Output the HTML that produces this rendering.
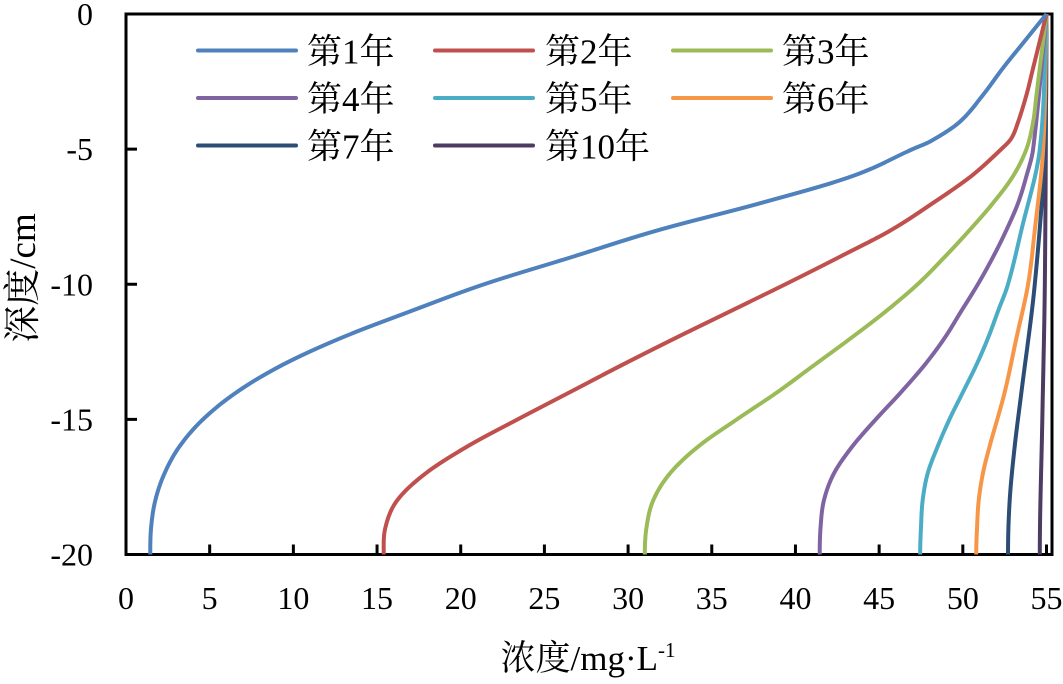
<!DOCTYPE html>
<html><head><meta charset="utf-8"><style>
body{margin:0;background:#fff;}
svg text{font-family:"Liberation Serif","Noto Serif CJK SC","Noto Sans CJK SC",serif;fill:#000;}
</style></head><body>
<svg id="chart" width="1063" height="679" viewBox="0 0 1063 679" xmlns="http://www.w3.org/2000/svg"></svg>
<script>
const seriesNames = ["第1年","第2年","第3年","第4年","第5年","第6年","第7年","第10年"];
const seriesColors = ["#4f81bd","#c0504d","#9bbb59","#8064a2","#4bacc6","#f79646","#2c4d75","#4d3b62"];
const depths1 = [0,-1,-2,-3,-4,-4.7,-5,-6,-7,-8,-9,-10,-11,-12,-13,-14,-15,-16,-17,-18,-19,-20];
const conc1 = [55,53.7,52.4,51.2,49.8,48.1,47.0,43.4,37.9,31.8,26.6,21.4,17.0,12.8,9.3,6.6,4.6,3.2,2.3,1.75,1.5,1.45];
const depths2 = [0,-1,-2,-3,-4,-4.6,-5,-6,-7,-8,-9,-10,-11,-12,-13,-14,-15,-16,-17,-18,-19,-20];
const conc2 = [55,54.6,54.2,53.8,53.3,52.9,52.3,50.5,48.2,45.7,42.6,39.4,36.1,32.8,29.6,26.5,23.4,20.4,17.9,16.2,15.5,15.4];
const depths3 = [0,-1,-2,-3,-4,-5,-6,-7,-8,-9,-10,-11,-12,-13,-14,-15,-16,-17,-18,-19,-20];
const conc3 = [55,54.8,54.6,54.4,54.2,53.8,53.0,51.8,50.4,48.9,47.3,45.4,43.3,41.1,38.9,36.5,34.2,32.5,31.5,31.1,31.0];
const depths4 = [0,-5,-6,-7,-8,-9,-10,-11,-12,-13,-14,-15,-16,-17,-18,-19,-20];
const conc4 = [55,54.2,53.8,53.3,52.6,51.8,50.9,49.9,48.9,47.7,46.3,44.8,43.4,42.3,41.7,41.5,41.45];
const depths5 = [0,-5,-8,-10,-11,-12,-13,-14,-15,-16,-17,-18,-19,-20];
const conc5 = [55,54.6,53.5,52.7,52.1,51.5,50.8,50.0,49.2,48.5,47.9,47.6,47.5,47.45];
const depths6 = [0,-5,-8,-10,-12,-14,-16,-17,-18,-19,-20];
const conc6 = [55,54.8,54.3,53.9,53.2,52.5,51.6,51.2,50.95,50.85,50.8];
const depths7 = [0,-5,-10,-14,-16,-18,-20];
const conc7 = [55,54.9,54.3,53.5,53.1,52.8,52.7];
const depths10 = [0,-10,-15,-20];
const conc10 = [55,54.9,54.75,54.6];
const xTicks = [0,5,10,15,20,25,30,35,40,45,50,55];
const yTicks = [0,-5,-10,-15,-20];

const allDepths=[depths1,depths2,depths3,depths4,depths5,depths6,depths7,depths10];
const allConc=[conc1,conc2,conc3,conc4,conc5,conc6,conc7,conc10];
const NS="http://www.w3.org/2000/svg";
const svg=document.getElementById('chart');
const L=126,R=1046.5,T=14,B=554.5;
const xs=v=>L+(v-0)/55*(R-L);
const ys=v=>T+(0-v)/20*(B-T);
function mk(tag,attrs,parent){const e=document.createElementNS(NS,tag);for(const k in attrs)e.setAttribute(k,attrs[k]);(parent||svg).appendChild(e);return e;}

let fr=mk('path',{d:`M${L},${T} H1052 V${B} H${L} Z`,fill:'none',stroke:'#000','stroke-width':3});



xTicks.forEach(t=>{
  const x=xs(t);
  if(t>0){const l=mk('line',{x1:x,x2:x,y1:B,y2:B-10,stroke:'#000','stroke-width':3});
  
  }
  const tx=mk('text',{x:x,y:609,'font-size':32,'text-anchor':'middle'});tx.textContent=t;
  
  
});
yTicks.forEach(t=>{
  const y=ys(t);
  if(t<0&&t>-20){const l=mk('line',{x1:L,x2:L+11,y1:y,y2:y,stroke:'#000','stroke-width':3});
  
  }
  const tx=mk('text',{x:93,y:y+11,'font-size':32,'text-anchor':'end'});tx.textContent=t;
  
  
});

// smooth cubic Hermite (centered slopes) of conc as function of depth
function smoothPath(ds,cs){
  const n=ds.length,t=ds.map(d=>-d),h=[],m=[];
  for(let i=0;i<n-1;i++)h[i]=t[i+1]-t[i];
  m[0]=(cs[1]-cs[0])/h[0];
  m[n-1]=0;
  for(let i=1;i<n-1;i++)m[i]=(cs[i+1]-cs[i-1])/(t[i+1]-t[i-1]);
  let d='';
  for(let i=0;i<n-1;i++){
    const steps=24;
    for(let k=(i===0?0:1);k<=steps;k++){
      const s=k/steps,tt=t[i]+s*h[i];
      const h00=2*s*s*s-3*s*s+1,h10=s*s*s-2*s*s+s,h01=-2*s*s*s+3*s*s,h11=s*s*s-s*s;
      const v=h00*cs[i]+h10*h[i]*m[i]+h01*cs[i+1]+h11*h[i]*m[i+1];
      d+=(d?' L':'M')+xs(v).toFixed(2)+','+ys(-tt).toFixed(2);
    }
  }
  return d;
}
for(let s=allConc.length-1;s>=0;s--){
  const p=mk('path',{d:smoothPath(allDepths[s],allConc[s]),fill:'none',stroke:seriesColors[s],'stroke-width':4,'stroke-linejoin':'round'});
  
  
}

const colX=[198,435,673],textX=[307,545,782],rowY=[50.5,98,145.5];
seriesNames.forEach((n,i)=>{
  const c=i%3,cy=rowY[Math.floor(i/3)];
  const g=mk('g',{});
  
  
  mk('line',{x1:colX[c],x2:colX[c]+98,y1:cy,y2:cy,stroke:seriesColors[i],'stroke-width':4,'stroke-linecap':'round'},g);
  const t=mk('text',{x:textX[c],y:cy+13,'font-size':35},g);t.textContent=n;
});

const xt=mk('text',{x:588,y:670,'font-size':35,'text-anchor':'middle'});


xt.innerHTML='浓度/mg·L<tspan dy="-13" font-size="21">-1</tspan>';
const yt=mk('text',{x:0,y:0,'font-size':37,'text-anchor':'middle',transform:'translate(35,278) rotate(-90)'});
yt.textContent='深度/cm';


</script>
</body></html>
